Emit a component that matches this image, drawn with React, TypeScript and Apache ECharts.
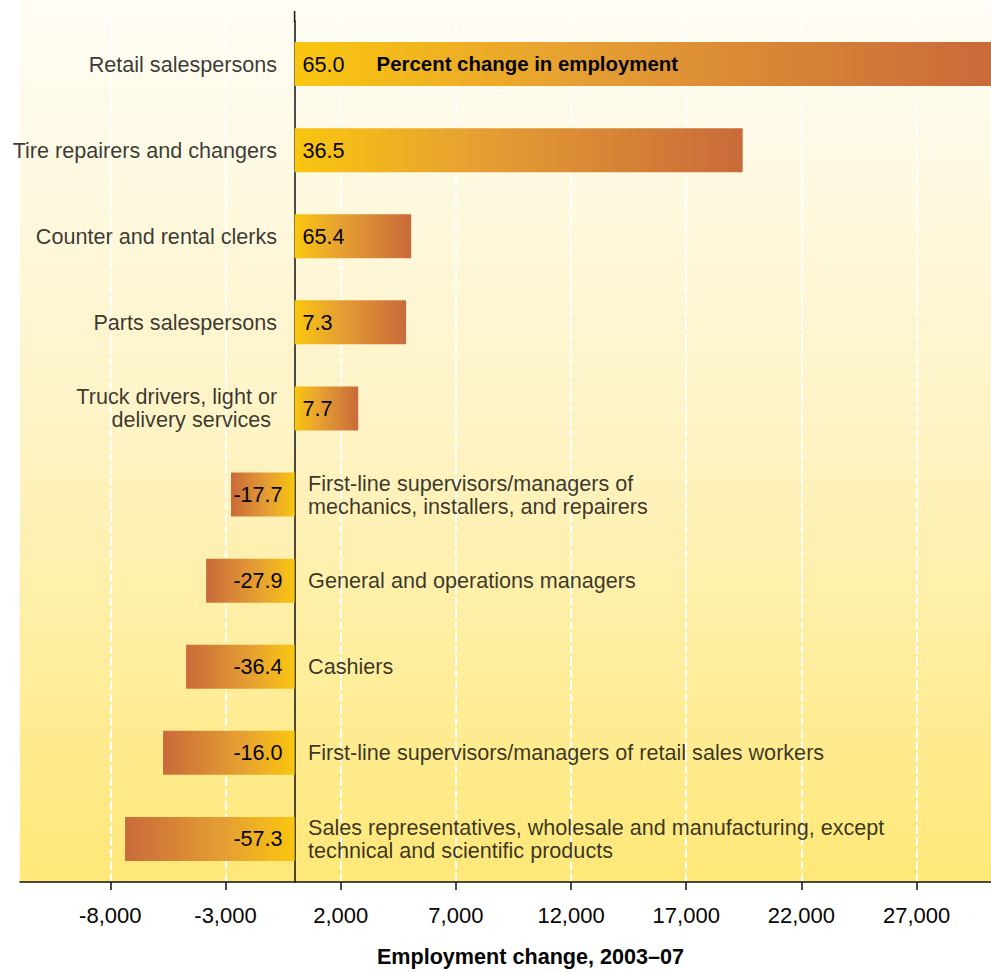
import React, { useEffect, useRef } from "react";
import * as echarts from "echarts";

const categories = [
  "Retail salespersons",
  "Tire repairers and changers",
  "Counter and rental clerks",
  "Parts salespersons",
  "Truck drivers, light or\ndelivery services ",
  "First-line supervisors/managers of\nmechanics, installers, and repairers",
  "General and operations managers",
  "Cashiers",
  "First-line supervisors/managers of retail sales workers",
  "Sales representatives, wholesale and manufacturing, except\ntechnical and scientific products",
];
const employmentChange = [30400, 19450, 5060, 4840, 2760, -2760, -3840, -4710, -5710, -7360];
const percentChange = [65.0, 36.5, 65.4, 7.3, 7.7, -17.7, -27.9, -36.4, -16.0, -57.3];
const tickValues = [-8000, -3000, 2000, 7000, 12000, 17000, 22000, 27000];
const axisTitle = "Employment change, 2003\u201307";
const legendNote = "Percent change in employment";

const FONT = "'Liberation Sans', Arial, sans-serif";
const YELLOW = "#FAC60F";
const MID = "#E6A032";
const BROWN = "#C96A3A";

function barGradient(positive: boolean) {
  const stops = positive
    ? [
        { offset: 0, color: YELLOW },
        { offset: 0.4, color: MID },
        { offset: 1, color: BROWN },
      ]
    : [
        { offset: 0, color: BROWN },
        { offset: 0.6, color: MID },
        { offset: 1, color: YELLOW },
      ];
  return new echarts.graphic.LinearGradient(0, 0, 1, 0, stops);
}

export default function App() {
  const ref = useRef<HTMLDivElement>(null);
  useEffect(() => {
    if (!ref.current) return;
    const chart = echarts.init(ref.current, undefined, { renderer: "svg" });
    const textBase = { fontFamily: FONT, fontSize: 21.6, color: "#050505" };

    const barData = employmentChange.map((v) => {
      const pos = v >= 0;
      return {
        value: v,
        itemStyle: { color: barGradient(pos) },
        label: pos
          ? { position: "insideLeft", distance: 8 }
          : { position: "insideRight", distance: 12 },
      };
    });

    const nameData = categories.map((c, i) => {
      const pos = employmentChange[i] >= 0;
      return {
        value: [0, i],
        label: pos
          ? { position: "left", distance: 17, align: "right" }
          : { position: "right", distance: 13, align: "left" },
      };
    });

    chart.setOption({
      animation: false,
      grid: { left: 20, right: 0, top: 21, bottom: 90, containLabel: false },
      xAxis: {
        type: "value",
        min: -11920,
        max: 30230,
        axisLine: { show: true, onZero: false, lineStyle: { color: "#111", width: 1.5 } },
        axisTick: { show: true, length: 8, customValues: tickValues, lineStyle: { color: "#111", width: 1.5 } },
        axisLabel: {
          customValues: tickValues,
          margin: 22,
          ...textBase,
          fontSize: 22,
          formatter: (v: number) => v.toLocaleString("en-US"),
        },
        splitLine: { show: true, lineStyle: { color: "#FFFFFF", width: 2, type: [9, 3] } },
        name: axisTitle,
        nameLocation: "middle",
        nameGap: 63,
        nameTextStyle: { ...textBase, fontWeight: "bold", padding: [0, 0, 0, 50] },
      },
      yAxis: {
        type: "category",
        inverse: true,
        data: categories,
        axisLine: { show: true, onZero: true, lineStyle: { color: "#111", width: 1.5 } },
        axisTick: { show: false },
        axisLabel: { show: false },
        splitLine: { show: false },
      },
      series: [
        {
          type: "bar",
          name: "Employment change",
          data: barData,
          barWidth: 44,
          clip: true,
          z: 3,
          label: {
            show: true,
            ...textBase,
            formatter: (p: any) => {
              const t = percentChange[p.dataIndex].toFixed(1);
              return p.dataIndex === 0 ? `{a|${t}}{b|${legendNote}}` : t;
            },
            rich: {
              a: { ...textBase },
              b: { ...textBase, fontSize: 20.4, fontWeight: "bold", padding: [0, 0, 0, 32] },
            },
          },
        },
        {
          type: "scatter",
          name: "Occupation",
          data: nameData,
          symbolSize: 1,
          itemStyle: { color: "rgba(0,0,0,0)" },
          silent: true,
          z: 4,
          label: {
            show: true,
            ...textBase,
            lineHeight: 23,
            formatter: (p: any) => categories[p.dataIndex],
          },
        },
      ],
    });

    const zeroX = chart.convertToPixel({ xAxisIndex: 0 }, 0) as number;
    chart.setOption({
      graphic: [
        {
          type: "rect",
          z: -100,
          silent: true,
          shape: { x: 20, y: 0, width: 971, height: 882 },
          style: {
            fill: new echarts.graphic.LinearGradient(0, 0, 0, 1, [
              { offset: 0, color: "#FFFDF6" },
              { offset: 0.5, color: "#FEF3C3" },
              { offset: 1, color: "#FFE878" },
            ]),
          },
        },
        {
          type: "line",
          z: 10,
          silent: true,
          shape: { x1: zeroX, y1: 11, x2: zeroX, y2: 22 },
          style: { stroke: "#111", lineWidth: 1.5 },
        },
      ],
    });

    return () => chart.dispose();
  }, []);
  return (
    <div
      ref={ref}
      style={{ position: "absolute", left: 0, top: 0, width: 991, height: 972 }}
    />
  );
}
